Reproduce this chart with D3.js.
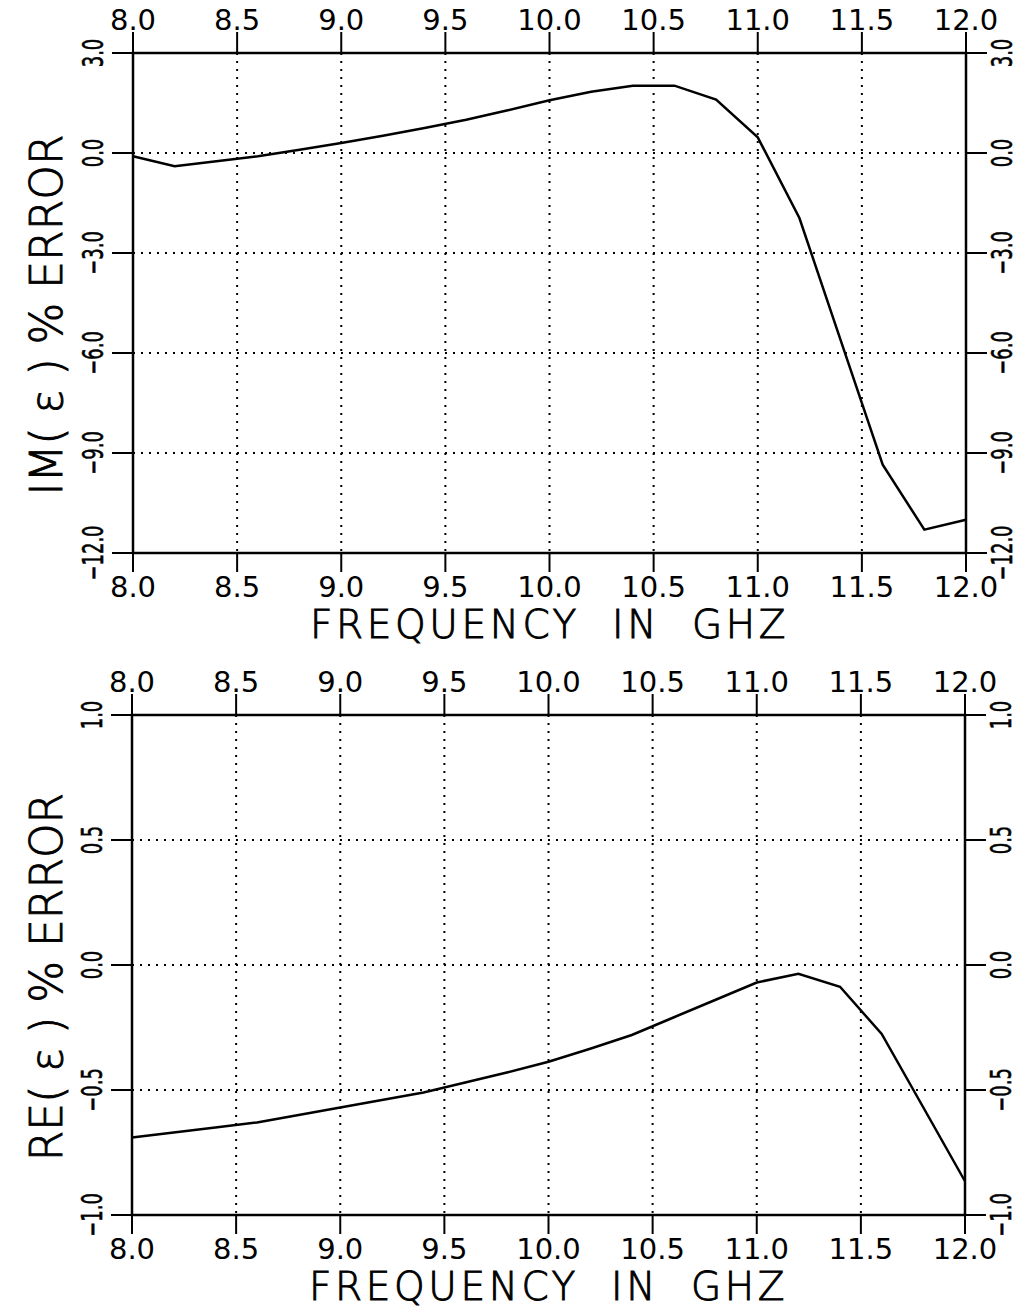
<!DOCTYPE html>
<meta charset="utf-8">
<head>
  <title>Permittivity error vs frequency</title>
</head>

<style>
body { margin: 0; background: #fff; }
text {
  font-family: "DejaVu Sans", sans-serif;
  fill: #000;
}
.tick-label { font-weight: 400; }
.y-label {
  font-weight: 400;
  stroke: #000;
  stroke-width: 0.6;
}
.title {
  font-weight: 200;
  stroke: #000;
  stroke-width: 0.9;
}
.grid line {
  stroke: #000;
  stroke-width: 2;
  stroke-dasharray: 2, 6;
}
.frame {
  fill: none;
  stroke: #000;
  stroke-width: 2.5;
}
.tick-mark {
  stroke: #000;
  stroke-width: 2;
}
.curve {
  fill: none;
  stroke: #000;
  stroke-width: 2.5;
}
</style>

<body>
  <svg width="1021" height="1310"></svg>

  <script src="https://cdnjs.cloudflare.com/ajax/libs/d3/7.8.5/d3.min.js"></script>
  <script>
// frequency samples (GHz)
var freq = [8.0, 8.2, 8.4, 8.6, 8.8, 9.0, 9.2, 9.4, 9.6, 9.8, 10.0,
            10.2, 10.4, 10.6, 10.8, 11.0, 11.2, 11.4, 11.6, 11.8, 12.0];

// IM(eps) % error
var imError = [-0.1, -0.4, -0.25, -0.1, 0.1, 0.3, 0.52, 0.75, 1.0, 1.28, 1.58,
               1.84, 2.02, 2.02, 1.6, 0.47, -1.95, -5.65, -9.35, -11.3, -11.0];

// RE(eps) % error
var reError = [-0.69, -0.67, -0.65, -0.63, -0.60, -0.57, -0.54, -0.51, -0.47, -0.43, -0.387,
               -0.335, -0.28, -0.21, -0.14, -0.07, -0.035, -0.087, -0.276, -0.57, -0.865];

var freqTicks = [8.0, 8.5, 9.0, 9.5, 10.0, 10.5, 11.0, 11.5, 12.0];
var imTicks = [3.0, 0.0, -3.0, -6.0, -9.0, -12.0];
var reTicks = [1.0, 0.5, 0.0, -0.5, -1.0];

var xTitle = 'FREQUENCY  IN  GHZ';

var svg = d3.select('svg');
var fmt = d3.format('.1f');

function drawPanel(box, values, yDomain, yTicks, yTitle) {
  var x = d3.scaleLinear().domain([8, 12]).range([box.left, box.right]);
  var y = d3.scaleLinear().domain(yDomain).range([box.bottom, box.top]);

  var g = svg.append('g');

  // dotted grid
  var grid = g.append('g').attr('class', 'grid');
  grid.selectAll('.vx')
    .data(freqTicks.slice(1, -1))
    .enter().append('line')
    .attr('x1', function(d) { return x(d); })
    .attr('x2', function(d) { return x(d); })
    .attr('y1', box.top)
    .attr('y2', box.bottom);
  grid.selectAll('.hy')
    .data(yTicks.slice(1, -1))
    .enter().append('line')
    .attr('x1', box.left)
    .attr('x2', box.right)
    .attr('y1', function(d) { return y(d); })
    .attr('y2', function(d) { return y(d); });

  // frame
  g.append('rect')
    .attr('class', 'frame')
    .attr('x', box.left)
    .attr('y', box.top)
    .attr('width', box.right - box.left)
    .attr('height', box.bottom - box.top);

  // outward tick marks on all four sides
  freqTicks.forEach(function(d) {
    g.append('line').attr('class', 'tick-mark')
      .attr('x1', x(d)).attr('x2', x(d))
      .attr('y1', box.top).attr('y2', box.top - 21);
    g.append('line').attr('class', 'tick-mark')
      .attr('x1', x(d)).attr('x2', x(d))
      .attr('y1', box.bottom).attr('y2', box.bottom + 19);
  });
  yTicks.forEach(function(d) {
    g.append('line').attr('class', 'tick-mark')
      .attr('x1', box.left - 21).attr('x2', box.left)
      .attr('y1', y(d)).attr('y2', y(d));
    g.append('line').attr('class', 'tick-mark')
      .attr('x1', box.right).attr('x2', box.right + 21)
      .attr('y1', y(d)).attr('y2', y(d));
  });

  // x tick labels, top and bottom
  g.selectAll('.xt')
    .data(freqTicks)
    .enter().append('text')
    .attr('class', 'tick-label')
    .attr('x', function(d) { return x(d); })
    .attr('y', box.top - 23)
    .attr('text-anchor', 'middle')
    .style('font-size', '29px')
    .text(fmt);
  g.selectAll('.xb')
    .data(freqTicks)
    .enter().append('text')
    .attr('class', 'tick-label')
    .attr('x', function(d) { return x(d); })
    .attr('y', box.bottom + 44)
    .attr('text-anchor', 'middle')
    .style('font-size', '29px')
    .text(fmt);

  // y tick labels, rotated and narrow, both sides
  [box.left - 30, box.right + 46].forEach(function(px) {
    g.selectAll(null)
      .data(yTicks)
      .enter().append('text')
      .attr('class', 'y-label')
      .attr('transform', function(d) {
        return 'translate(' + px + ',' + y(d) + ') rotate(-90) scale(0.62,1)';
      })
      .attr('text-anchor', 'middle')
      .style('font-size', '29px')
      .text(fmt);
  });

  // axis titles
  g.append('text')
    .attr('class', 'title')
    .attr('x', (box.left + box.right) / 2)
    .attr('y', box.bottom + 85)
    .attr('text-anchor', 'middle')
    .style('font-size', '39px')
    .style('letter-spacing', '3.6px')
    .style('white-space', 'pre')
    .text(xTitle);
  g.append('text')
    .attr('class', 'title')
    .attr('transform', 'translate(62,' + ((box.top + box.bottom) / 2 + 12) + ') rotate(-90)')
    .attr('text-anchor', 'middle')
    .style('font-size', '44px')
    .style('white-space', 'pre')
    .text(yTitle);

  // data curve
  var line = d3.line()
    .x(function(d, i) { return x(freq[i]); })
    .y(function(d) { return y(d); });
  g.append('path')
    .datum(values)
    .attr('class', 'curve')
    .attr('d', line);
}

drawPanel({left: 133, right: 966, top: 53, bottom: 553}, imError, [-12, 3], imTicks, 'IM( \u03b5 ) % ERROR');
drawPanel({left: 132, right: 965, top: 715, bottom: 1215}, reError, [-1, 1], reTicks, 'RE( \u03b5 ) % ERROR');
  </script>
</body>
</html>
